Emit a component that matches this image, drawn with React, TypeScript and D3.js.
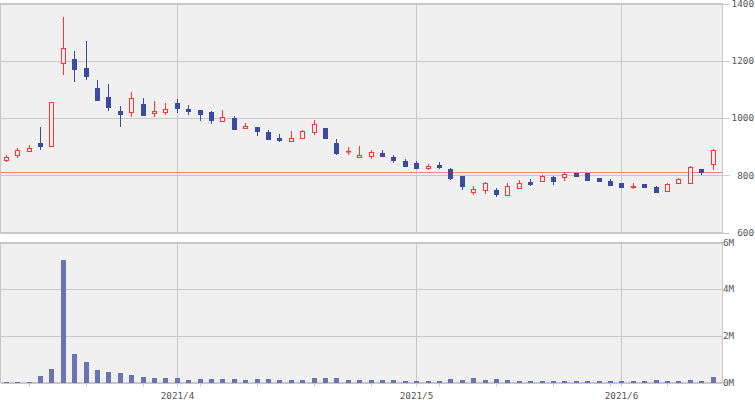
import React from 'react';
import * as d3 from 'd3';

// trading days, 2021
const dates = [
  '3/11', '3/12', '3/15', '3/16', '3/17', '3/18', '3/19', '3/22', '3/23', '3/24', '3/25', '3/26', '3/29', '3/30', '3/31',
  '4/1', '4/2', '4/5', '4/6', '4/7', '4/8', '4/9', '4/12', '4/13', '4/14', '4/15', '4/16', '4/19', '4/20', '4/21', '4/22',
  '4/23', '4/26', '4/27', '4/28', '4/30',
  '5/6', '5/7', '5/10', '5/11', '5/12', '5/13', '5/14', '5/17', '5/18', '5/19', '5/20', '5/21', '5/24', '5/25', '5/26',
  '5/27', '5/28', '5/31',
  '6/1', '6/2', '6/3', '6/4', '6/7', '6/8', '6/9', '6/10', '6/11',
];

const open = [
  851, 866, 880, 913, 898, 1187, 1206, 1174, 1105, 1073, 1024, 1016, 1049, 1013, 1016,
  1052, 1031, 1028, 1021, 987, 1000, 963, 969, 951, 930, 915, 926, 947, 965, 913, 883,
  861, 865, 878, 864, 850,
  843, 823, 836, 822, 798, 739, 746, 749, 729, 753, 777, 778, 794, 792, 808, 808, 790, 779,
  772, 755, 769, 758, 741, 769, 769, 821, 835,
];
const high = [
  870, 895, 906, 970, 1056, 1353, 1234, 1269, 1133, 1119, 1042, 1091, 1070, 1059, 1052,
  1066, 1045, 1028, 1024, 1028, 1007, 983, 969, 958, 944, 955, 958, 993, 965, 927, 899,
  902, 888, 888, 871, 857,
  850, 838, 846, 825, 798, 763, 777, 756, 772, 784, 787, 800, 798, 812, 808, 808, 790, 786,
  772, 772, 769, 762, 772, 790, 831, 821, 892,
];
const low = [
  847, 861, 880, 889, 898, 1151, 1127, 1133, 1060, 1025, 970, 1005, 1008, 1005, 1009,
  1018, 1011, 991, 980, 987, 959, 963, 938, 924, 917, 915, 926, 942, 928, 872, 872,
  861, 858, 865, 844, 830,
  823, 820, 822, 785, 750, 732, 736, 725, 729, 753, 763, 778, 766, 780, 793, 781, 776, 764,
  755, 751, 755, 737, 741, 769, 769, 800, 817,
];
const close = [
  864, 887, 895, 900, 1056, 1243, 1169, 1144, 1060, 1036, 1011, 1069, 1008, 1023, 1031,
  1032, 1021, 1010, 991, 1003, 959, 971, 952, 924, 921, 929, 954, 979, 928, 875, 885,
  870, 881, 865, 851, 830,
  823, 831, 825, 788, 760, 752, 772, 732, 762, 773, 766, 797, 777, 805, 793, 781, 776, 764,
  755, 763, 755, 737, 769, 786, 828, 807, 887,
];
// volume, millions of shares
const volume = [
  0.04, 0.04, 0.04, 0.27, 0.57, 5.24, 1.21, 0.87, 0.53, 0.44, 0.4, 0.31, 0.23, 0.19, 0.19,
  0.19, 0.1, 0.14, 0.14, 0.14, 0.14, 0.1, 0.14, 0.14, 0.1, 0.1, 0.1, 0.19, 0.19, 0.19, 0.1,
  0.1, 0.1, 0.1, 0.1, 0.06,
  0.06, 0.06, 0.06, 0.14, 0.1, 0.19, 0.1, 0.14, 0.1, 0.06, 0.06, 0.06, 0.06, 0.06, 0.06, 0.06, 0.06, 0.06,
  0.06, 0.06, 0.06, 0.1, 0.06, 0.06, 0.1, 0.06, 0.23,
];

const priceTicks = [600, 800, 1000, 1200, 1400];
const volumeTicks = [0, 2, 4, 6];
const refPrice = 811;

const W = 755;
const H = 400;
const plotLeft = 0.5;
const plotRight = 722.5;
const grid = '#c8c8c8';
const red = '#ff3333';
const blue = '#3b4ba3';
const volColor = '#6b74b3';
const textColor = '#555';
const font = '"DejaVu Sans Mono", monospace';

const parsed = dates.map((d) => {
  const [m, day] = d.split('/').map(Number);
  return new Date(2021, m - 1, day);
});
const monthStarts = parsed
  .map((d, i) => ({ d, i }))
  .filter(({ d, i }) => i > 0 && d.getMonth() !== parsed[i - 1].getMonth());
const mondays = parsed.map((d, i) => ({ d, i })).filter(({ d }) => d.getDay() === 1);

export default function App() {
  const x = d3.scaleLinear().domain([0, dates.length - 1]).range([6.3, 713.1]);
  const yP = d3.scaleLinear().domain([600, 1400]).range([232.5, 3.5]);
  const yV = d3.scaleLinear().domain([0, 6]).range([382.5, 242.5]);
  const cx = (i: number) => Math.floor(x(i)) + 0.5;
  const snap = (v: number) => Math.round(v) + 0.5;

  return (
    <div style={{ position: 'absolute', left: 0, top: 0 }}>
      <svg width={W} height={H} style={{ display: 'block', background: '#fff' }}>
        {/* price panel */}
        <rect x={plotLeft} y={yP(1400)} width={plotRight - plotLeft} height={yP(600) - yP(1400)} fill="#f0f0f0" stroke={grid} />
        {priceTicks.map((t) => (
          <g key={t}>
            <line x1={plotLeft} x2={plotRight + 7} y1={snap(yP(t))} y2={snap(yP(t))} stroke={grid} />
            <text x={754} y={yP(t)} dy="0.35em" textAnchor="end" fontFamily={font} fontSize={9.3} fill={textColor}>
              {t}
            </text>
          </g>
        ))}
        {monthStarts.map(({ i }) => (
          <line key={i} x1={cx(i)} x2={cx(i)} y1={yP(1400)} y2={yP(600)} stroke={grid} />
        ))}
        <line x1={plotLeft} x2={plotRight} y1={snap(yP(refPrice))} y2={snap(yP(refPrice))} stroke="#ff8080" />
        {dates.map((_, i) => {
          const up = close[i] >= open[i];
          const c = cx(i);
          const top = Math.round(yP(Math.max(open[i], close[i])));
          const bot = Math.round(yP(Math.min(open[i], close[i])));
          const col = up ? red : blue;
          return (
            <g key={i}>
              <line x1={c} x2={c} y1={Math.round(yP(high[i]))} y2={Math.round(yP(low[i]))} stroke={col} />
              {up ? (
                <rect x={c - 2} y={top + 0.5} width={4} height={Math.max(bot - top - 1, 0.5)} fill="#f0f0f0" stroke={col} />
              ) : (
                <rect x={c - 2.5} y={top} width={5} height={Math.max(bot - top, 1)} fill={col} />
              )}
            </g>
          );
        })}

        {/* volume panel */}
        <rect x={plotLeft} y={yV(6)} width={plotRight - plotLeft} height={yV(0) - yV(6)} fill="#f0f0f0" stroke={grid} />
        {volumeTicks.map((t) => (
          <g key={t}>
            <line x1={plotLeft} x2={plotRight} y1={snap(yV(t))} y2={snap(yV(t))} stroke={grid} />
            <text x={723} y={yV(t)} dy="0.35em" fontFamily={font} fontSize={9.3} fill={textColor}>
              {t}M
            </text>
          </g>
        ))}
        {monthStarts.map(({ i }) => (
          <line key={i} x1={cx(i)} x2={cx(i)} y1={yV(6)} y2={yV(0) + 4} stroke={grid} />
        ))}
        {mondays.map(({ i }) => (
          <line key={i} x1={cx(i)} x2={cx(i)} y1={yV(0)} y2={yV(0) + 4} stroke={grid} />
        ))}
        {volume.map((v, i) => (
          <rect key={i} x={cx(i) - 2.5} y={Math.round(yV(v))} width={5} height={Math.round(yV(0)) - Math.round(yV(v))} fill={volColor} />
        ))}
        {monthStarts.map(({ d, i }) => (
          <text key={i} x={cx(i)} y={398.5} textAnchor="middle" fontFamily={font} fontSize={9.3} fill={textColor}>
            {`${d.getFullYear()}/${d.getMonth() + 1}`}
          </text>
        ))}
      </svg>
    </div>
  );
}
